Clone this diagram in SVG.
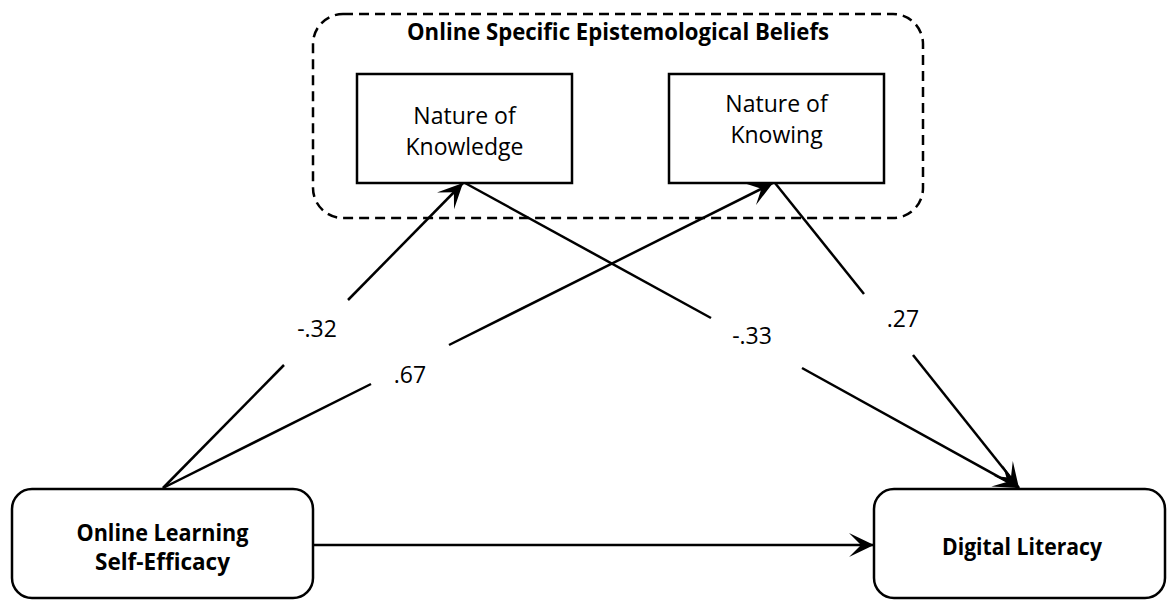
<svg xmlns="http://www.w3.org/2000/svg" width="1169" height="601" viewBox="0 0 1169 601">
<defs>
<marker id="arr" viewBox="-26 -13 27 26" markerWidth="27" markerHeight="26" refX="0" refY="0" orient="auto" markerUnits="userSpaceOnUse">
<path d="M0,0 L-25,-12 L-13,0 L-25,12 Z" fill="#000"/>
</marker>
<style>
.box{fill:#fff;stroke:#000;stroke-width:2.5}
.grp{fill:none;stroke:#000;stroke-width:2.5;stroke-dasharray:10 6}
.ln{fill:none;stroke:#000;stroke-width:2.5}
.t{font-family:"Open Sans","Liberation Sans",sans-serif;font-size:23px;fill:#000;text-anchor:middle}
.b{font-weight:bold}
</style>
</defs>
<rect width="1169" height="601" fill="#fff"/>
<g id="group-beliefs">
<rect class="grp" x="313" y="14" width="610" height="204" rx="30"/>
<text class="t b" x="618" y="40" textLength="422" lengthAdjust="spacingAndGlyphs">Online Specific Epistemological Beliefs</text>
</g>
<g id="node-knowledge">
<rect class="box" x="357" y="74" width="215" height="109"/>
<text class="t" x="464.5" y="124">Nature of</text>
<text class="t" x="464.5" y="155">Knowledge</text>
</g>
<g id="node-knowing">
<rect class="box" x="669" y="74" width="215" height="109"/>
<text class="t" x="776.5" y="112">Nature of</text>
<text class="t" x="776.5" y="143">Knowing</text>
</g>
<g id="node-self-efficacy">
<rect class="box" x="12" y="489" width="301" height="109" rx="20"/>
<text class="t b" x="162.5" y="541" textLength="172" lengthAdjust="spacingAndGlyphs">Online Learning</text>
<text class="t b" x="162.5" y="570" textLength="135" lengthAdjust="spacingAndGlyphs">Self-Efficacy</text>
</g>
<g id="node-digital-literacy">
<rect class="box" x="874" y="489" width="291" height="109" rx="20"/>
<text class="t b" x="1022" y="555" textLength="160" lengthAdjust="spacingAndGlyphs">Digital Literacy</text>
</g>
<g id="connectors">
<line class="ln" x1="163" y1="488" x2="284" y2="365"/>
<line class="ln" x1="348" y1="300" x2="463" y2="183" marker-end="url(#arr)"/>
<line class="ln" x1="163" y1="488" x2="371" y2="384"/>
<line class="ln" x1="449" y1="345" x2="773" y2="183" marker-end="url(#arr)"/>
<line class="ln" x1="465" y1="183" x2="711" y2="318"/>
<line class="ln" x1="802" y1="368" x2="1019" y2="488" marker-end="url(#arr)"/>
<line class="ln" x1="775" y1="183" x2="864" y2="294"/>
<line class="ln" x1="913" y1="355" x2="1019" y2="488" marker-end="url(#arr)"/>
<line class="ln" x1="313" y1="545" x2="874" y2="545" marker-end="url(#arr)"/>
<text class="t" x="317" y="337">-.32</text>
<text class="t" x="410" y="383">.67</text>
<text class="t" x="752" y="344">-.33</text>
<text class="t" x="903" y="327">.27</text>
</g>
</svg>
